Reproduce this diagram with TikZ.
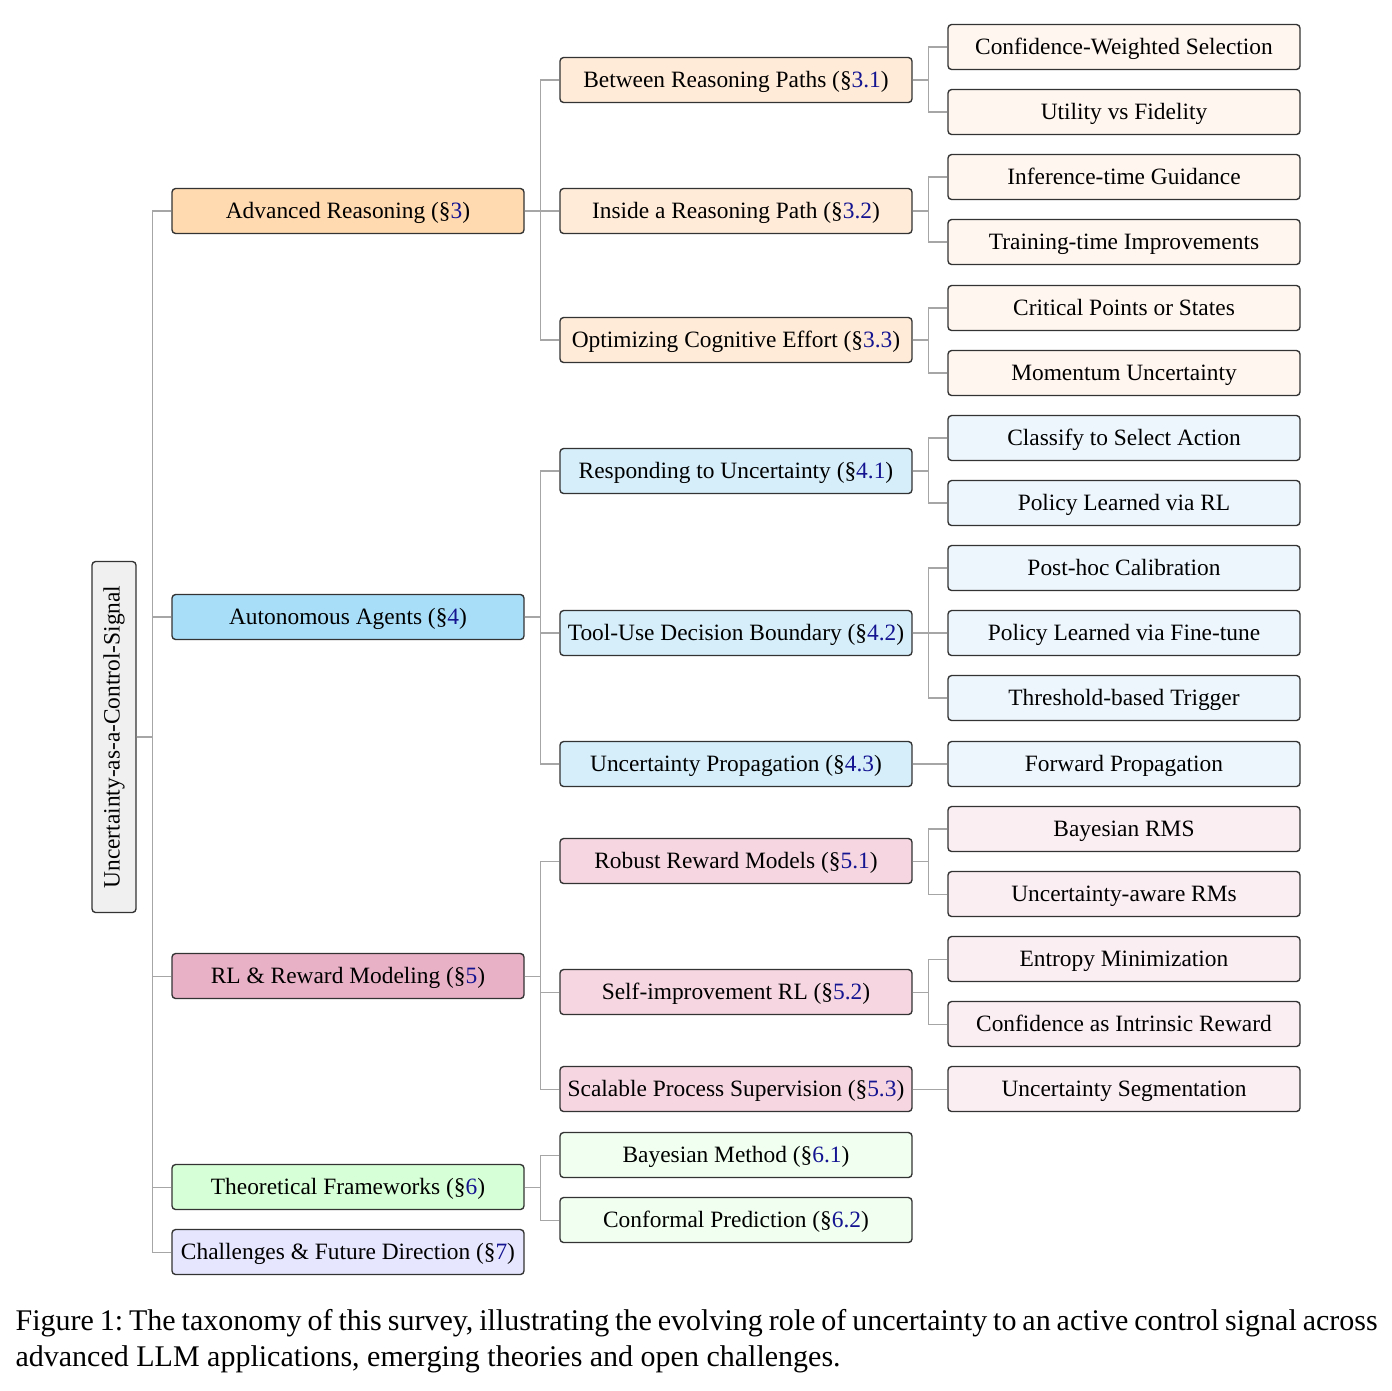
\documentclass[tikz,border=0pt]{standalone}
\usepackage{fontspec}
\setmainfont{Liberation Serif}
\frenchspacing
\definecolor{lnk}{RGB}{20,20,145}
\definecolor{or1}{RGB}{255,218,176}
\definecolor{or2}{RGB}{255,235,216}
\definecolor{or3}{RGB}{255,246,240}
\definecolor{bl1}{RGB}{169,222,249}
\definecolor{bl2}{RGB}{213,238,250}
\definecolor{bl3}{RGB}{237,246,253}
\definecolor{pk1}{RGB}{233,177,198}
\definecolor{pk2}{RGB}{245,214,225}
\definecolor{pk3}{RGB}{251,238,242}
\definecolor{gr1}{RGB}{215,255,215}
\definecolor{gr2}{RGB}{240,255,240}
\definecolor{pu1}{RGB}{230,230,255}
\definecolor{rt}{RGB}{240,240,240}
\newcommand{\sref}[1]{(\S\textcolor{lnk}{#1})}
\tikzset{
  box/.style={draw=black!80, rounded corners=1.2pt, line width=0.45pt,
    minimum width=117.33pt, minimum height=15pt, inner sep=0pt,
    text depth=0.5pt, font=\fontsize{7.8}{9.4}\selectfont},
  conn/.style={draw=black!35, line width=0.35pt}
}
\begin{document}
\begin{tikzpicture}[x=0.33333pt, y=-0.33333pt]
\useasboundingbox (0,0) rectangle (1392,1390);
% root
\node[draw=black!80, fill=rt, rounded corners=1.2pt, line width=0.45pt,
  minimum width=117pt, minimum height=14.67pt, inner sep=0pt, rotate=90,
  font=\fontsize{7.8}{9.4}\selectfont] (root) at (114,737) {Uncertainty-as-a-Control-Signal};
% level 1
\node[box, fill=or1] (ar) at (348,211) {Advanced Reasoning \sref{3}};
\node[box, fill=bl1] (aa) at (348,617) {Autonomous Agents \sref{4}};
\node[box, fill=pk1] (rl) at (348,976) {RL \& Reward Modeling \sref{5}};
\node[box, fill=gr1] (tf) at (348,1187) {Theoretical Frameworks \sref{6}};
\node[box, fill=pu1] (cf) at (348,1252) {Challenges \& Future Direction \sref{7}};
% level 2
\node[box, fill=or2] (b31) at (736,80) {Between Reasoning Paths \sref{3.1}};
\node[box, fill=or2] (b32) at (736,211) {Inside a Reasoning Path \sref{3.2}};
\node[box, fill=or2] (b33) at (736,340) {Optimizing Cognitive Effort \sref{3.3}};
\node[box, fill=bl2] (b41) at (736,471) {Responding to Uncertainty \sref{4.1}};
\node[box, fill=bl2] (b42) at (736,633) {Tool-Use Decision Boundary \sref{4.2}};
\node[box, fill=bl2] (b43) at (736,764) {Uncertainty Propagation \sref{4.3}};
\node[box, fill=pk2] (b51) at (736,861) {Robust Reward Models \sref{5.1}};
\node[box, fill=pk2] (b52) at (736,992) {Self-improvement RL \sref{5.2}};
\node[box, fill=pk2] (b53) at (736,1089) {Scalable Process Supervision \sref{5.3}};
\node[box, fill=gr2] (b61) at (736,1155) {Bayesian Method \sref{6.1}};
\node[box, fill=gr2] (b62) at (736,1220) {Conformal Prediction \sref{6.2}};
% level 3
\node[box, fill=or3] (c1) at (1124,47) {Confidence-Weighted Selection};
\node[box, fill=or3] (c2) at (1124,112) {Utility vs Fidelity};
\node[box, fill=or3] (c3) at (1124,177) {Inference-time Guidance};
\node[box, fill=or3] (c4) at (1124,242) {Training-time Improvements};
\node[box, fill=or3] (c5) at (1124,308) {Critical Points or States};
\node[box, fill=or3] (c6) at (1124,373) {Momentum Uncertainty};
\node[box, fill=bl3] (c7) at (1124,438) {Classify to Select Action};
\node[box, fill=bl3] (c8) at (1124,503) {Policy Learned via RL};
\node[box, fill=bl3] (c9) at (1124,568) {Post-hoc Calibration};
\node[box, fill=bl3] (c10) at (1124,633) {Policy Learned via Fine-tune};
\node[box, fill=bl3] (c11) at (1124,698) {Threshold-based Trigger};
\node[box, fill=bl3] (c12) at (1124,764) {Forward Propagation};
\node[box, fill=pk3] (c13) at (1124,829) {Bayesian RMS};
\node[box, fill=pk3] (c14) at (1124,894) {Uncertainty-aware RMs};
\node[box, fill=pk3] (c15) at (1124,959) {Entropy Minimization};
\node[box, fill=pk3] (c16) at (1124,1024) {Confidence as Intrinsic Reward};
\node[box, fill=pk3] (c17) at (1124,1089) {Uncertainty Segmentation};
% connectors
\foreach \c in {ar, aa, rl, tf, cf}
  \draw[conn] (root.south) -- ++(16,0) |- (\c.west);
\foreach \p/\c in {
  ar/b31, ar/b32, ar/b33, aa/b41, aa/b42, aa/b43, rl/b51, rl/b52, rl/b53,
  tf/b61, tf/b62,
  b31/c1, b31/c2, b32/c3, b32/c4, b33/c5, b33/c6, b41/c7, b41/c8,
  b42/c9, b42/c10, b42/c11, b43/c12, b51/c13, b51/c14, b52/c15, b52/c16,
  b53/c17}
  \draw[conn] (\p.east) -- ++(16,0) |- (\c.west);
% caption
\node[anchor=north west, inner sep=0pt, text width=454pt, align=justify,
  font=\fontsize{10}{12}\selectfont] (cap) at (15,1309)
  {Figure 1: The taxonomy of this survey, illustrating the evolving role of uncertainty to an active control signal across\linebreak advanced LLM applications, emerging theories and open challenges.};
\end{tikzpicture}
\end{document}
